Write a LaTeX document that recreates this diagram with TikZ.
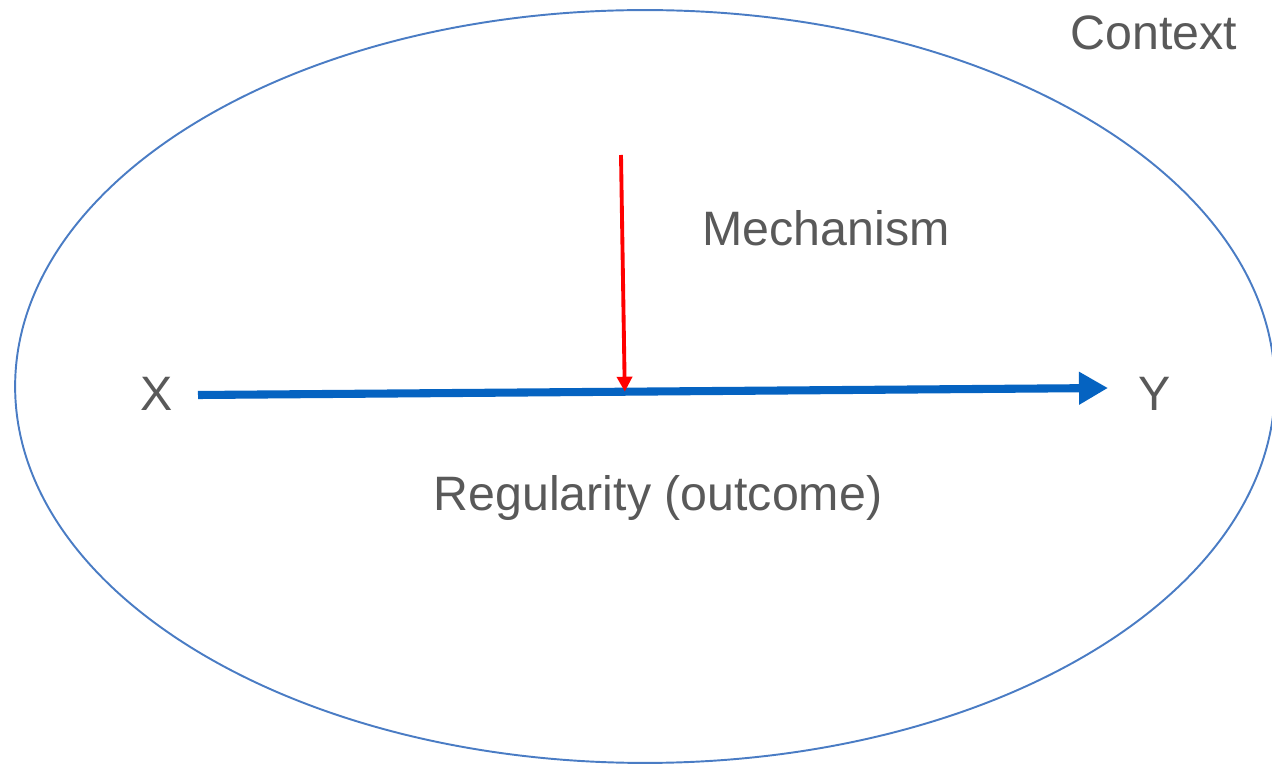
\documentclass[tikz,border=0pt]{standalone}
\usepackage{fontspec}
\setmainfont{Liberation Sans}
\usepackage{tikz}
\usetikzlibrary{shapes.geometric,arrows.meta,positioning,calc}
\definecolor{ctxblue}{HTML}{4A7CC4}
\definecolor{flowblue}{HTML}{0563C1}
\definecolor{mechred}{HTML}{FF0000}
\definecolor{labelgray}{HTML}{595959}
\tikzset{
  lbl/.style={text=labelgray,font=\fontsize{27.5}{33}\selectfont,inner sep=0pt,anchor=center},
  ctxring/.style={ellipse,draw=ctxblue,line width=1.1pt,minimum width=25.2cm,minimum height=15.06cm,inner sep=0pt},
  flowarrow/.style={-{Triangle[length=0.58cm,width=0.62cm]},line width=4.6pt,draw=flowblue},
  mecharrow/.style={-{Triangle[length=0.3cm,width=0.3cm]},line width=2.2pt,draw=mechred},
}
\begin{document}
\begin{tikzpicture}[x=0.02cm,y=-0.02cm]
  \useasboundingbox (0,0) rectangle (1272,766);
  \node[ctxring] (ctx) at (645,386.5) {};
  \node[lbl] (ctxlbl) at (1154,33) {Context};
  \node[lbl] (X) at (157,394) {X};
  \node[lbl] (Y) at (1155,394) {Y};
  \node[lbl] (mech) at (826,228) {Mechanism};
  \node[lbl] (reg) at (658,498) {Regularity (outcome)};
  \coordinate (xstart) at (198,395);
  \coordinate (yend) at (1108,388);
  \coordinate (mtop) at (621,155);
  \coordinate (hit) at ($(xstart)!0.469!(yend)$);
  \draw[flowarrow] (xstart) -- (yend);
  \draw[mecharrow] (mtop) -- (hit);
\end{tikzpicture}
\end{document}
